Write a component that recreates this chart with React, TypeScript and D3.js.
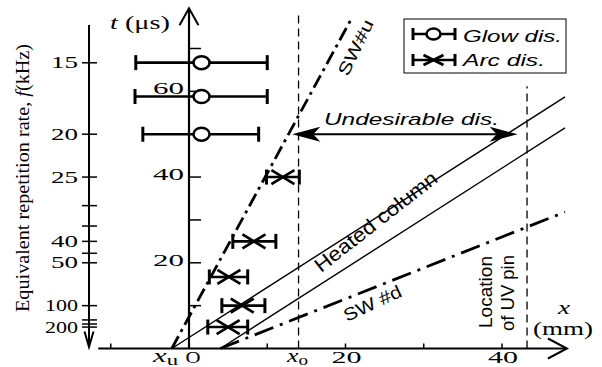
import React, { useEffect, useRef } from 'react';
import * as d3 from 'd3';

// readings from the figure: t in microseconds, x in mm
const glowT = [66.7, 58.8, 50.0];
const glowX = [1.6, 1.6, 1.6];
const glowLo = [-6.8, -6.9, -5.9];
const glowHi = [10.0, 10.0, 8.9];

const arcT = [40, 25, 16.7, 10, 5];
const arcX = [12.0, 8.3, 5.1, 6.8, 5.0];
const arcLo = [9.9, 5.6, 2.6, 4.2, 2.4];
const arcHi = [14.1, 11.1, 7.5, 9.7, 7.5];

const tTicks = [10, 20, 30, 40, 50, 60, 70];
const tLabels = [20, 40, 60];
const fTicks = [15, 20, 25, 30, 35, 40, 45, 50, 100, 150, 175, 200];
const fLabels = [15, 20, 25, 40, 50, 100, 200];
const xTicks = [-10, 10, 20, 30, 40];
const xLabels = [20, 40];

const swU: [number, number][] = [[-2.2, 0], [20.8, 77.1]];
const heatUpper: [number, number][] = [[-2.2, 0], [48.05, 58.7]];
const heatLower: [number, number][] = [[4.0, 0], [48.05, 51.5]];
const swD: [number, number][] = [[4.0, 0], [48.05, 31.85]];

const xO = 14.0;
const xPin = 43.2;
const xOTop = 78.3;
const pinTop = 61.2;
const undesT = 50;
const undesX = [13.2, 42.0];

const xMin = -11.6;
const xMax = 48.3;
const tMax = 79.4;
const fTopT = 75.5;

const W = 602;
const H = 367;
const SERIF = "'Liberation Serif', 'Times New Roman', serif";
const SANS = "'Liberation Sans', Arial, sans-serif";

type Part = { t: string; italic?: boolean; size?: number; dy?: number };

const App = () => {
  const svgRef = useRef<SVGSVGElement>(null);

  useEffect(() => {
    const svg = d3.select(svgRef.current);
    svg.selectAll('*').remove();

    const x = d3.scaleLinear().domain([0, 40]).range([189, 502]);
    const t = d3.scaleLinear().domain([0, 70]).range([348.5, 48.5]);
    const fy = (f: number) => t(1000 / f);
    const line = d3.line<[number, number]>().x(d => x(d[0])).y(d => t(d[1]));

    const label = (parent: any, px: number, py: number, parts: Part[], o: any = {}) => {
      const el = parent.append('text')
        .attr('x', px).attr('y', py)
        .attr('font-family', o.family ?? SERIF)
        .attr('font-size', o.size ?? 17)
        .attr('text-anchor', o.anchor ?? 'start')
        .attr('fill', '#000');
      if (o.len) el.attr('textLength', o.len).attr('lengthAdjust', 'spacingAndGlyphs');
      if (o.transform) el.attr('transform', o.transform);
      if (o.italic) el.attr('font-style', 'italic');
      parts.forEach(p => {
        const ts = el.append('tspan').text(p.t);
        if (p.italic) ts.attr('font-style', 'italic');
        if (p.size) ts.attr('font-size', p.size);
        if (p.dy) ts.attr('dy', p.dy);
      });
      return el;
    };

    const g = svg.append('g');

    // x axis
    const y0 = t(0);
    g.append('line').attr('x1', x(xMin)).attr('x2', x(xMax)).attr('y1', y0).attr('y2', y0)
      .attr('stroke', '#000').attr('stroke-width', 2);
    g.append('path')
      .attr('d', `M${x(xMax) - 19},${y0 - 10}L${x(xMax)},${y0}L${x(xMax) - 19},${y0 + 10}`)
      .attr('fill', 'none').attr('stroke', '#000').attr('stroke-width', 2);
    xTicks.forEach(v => {
      g.append('line').attr('x1', x(v)).attr('x2', x(v)).attr('y1', y0).attr('y2', y0 - 5)
        .attr('stroke', '#000').attr('stroke-width', 1.5);
    });
    xLabels.forEach(v => label(g, x(v) + 1, 363, [{ t: String(v) }], { anchor: 'middle', len: 30 }));
    label(g, 193, 363, [{ t: 'O' }], { anchor: 'middle', len: 15 });
    label(g, 153, 362, [{ t: 'x', italic: true }, { t: 'u', size: 14, dy: 3 }], { len: 25, size: 19 });
    label(g, 287, 362, [{ t: 'x', italic: true }, { t: 'o', size: 14, dy: 3 }], { len: 21, size: 19 });
    label(g, 564, 314, [{ t: 'x', italic: true }], { anchor: 'middle', size: 19, len: 12 });
    label(g, 563, 335, [{ t: '(mm)' }], { anchor: 'middle', size: 18, len: 60 });

    // t axis
    g.append('line').attr('x1', x(0)).attr('x2', x(0)).attr('y1', y0).attr('y2', t(tMax))
      .attr('stroke', '#000').attr('stroke-width', 2.2);
    g.append('path')
      .attr('d', `M${x(0) - 9.5},${t(tMax) + 17}L${x(0)},${t(tMax)}L${x(0) + 9.5},${t(tMax) + 17}`)
      .attr('fill', 'none').attr('stroke', '#000').attr('stroke-width', 2);
    tTicks.forEach(v => {
      g.append('line').attr('x1', x(0)).attr('x2', x(0) + 12).attr('y1', t(v)).attr('y2', t(v))
        .attr('stroke', '#000').attr('stroke-width', 1.5);
    });
    tLabels.forEach(v => label(g, 184, t(v) + 3, [{ t: String(v) }], { anchor: 'end', len: 31 }));
    label(g, 110, 28.5, [{ t: 't', italic: true }, { t: ' (μs)' }], { size: 19, len: 60 });

    // frequency axis (reciprocal of t)
    const fx = 89;
    g.append('line').attr('x1', fx).attr('x2', fx).attr('y1', t(fTopT)).attr('y2', y0 - 1.5)
      .attr('stroke', '#000').attr('stroke-width', 2);
    g.append('path')
      .attr('d', `M${fx - 4.5},${y0 - 17}L${fx},${y0 - 1.5}L${fx + 4.5},${y0 - 17}`)
      .attr('fill', 'none').attr('stroke', '#000').attr('stroke-width', 2);
    fTicks.forEach(f => {
      g.append('line').attr('x1', fx - 7).attr('x2', fx + 8).attr('y1', fy(f)).attr('y2', fy(f))
        .attr('stroke', '#000').attr('stroke-width', 1.5);
    });
    fLabels.forEach(f => {
      const s = String(f);
      label(g, 78, fy(f) + 5.5, [{ t: s }], { anchor: 'end', len: s.length > 2 ? 33 : 27 });
    });
    label(g, 0, 0, [{ t: 'Equivalent repetition rate, ' }, { t: 'f', italic: true }, { t: '(kHz)' }],
      { anchor: 'middle', size: 18, len: 268, transform: 'translate(29,178) rotate(-90)' });

    // vertical dashed markers
    g.append('line').attr('x1', x(xO)).attr('x2', x(xO)).attr('y1', y0).attr('y2', t(xOTop))
      .attr('stroke', '#000').attr('stroke-width', 1.3).attr('stroke-dasharray', '8,5');
    g.append('line').attr('x1', x(xPin)).attr('x2', x(xPin)).attr('y1', y0).attr('y2', t(pinTop))
      .attr('stroke', '#000').attr('stroke-width', 1.3).attr('stroke-dasharray', '8,5');

    // shock waves and heated column
    g.append('path').attr('d', line(swU)).attr('fill', 'none').attr('stroke', '#000')
      .attr('stroke-width', 2.8).attr('stroke-dasharray', '14,5,3,5');
    g.append('path').attr('d', line(swD)).attr('fill', 'none').attr('stroke', '#000')
      .attr('stroke-width', 2.8).attr('stroke-dasharray', '20,7,3,7');
    [heatUpper, heatLower].forEach(d => {
      g.append('path').attr('d', line(d)).attr('fill', 'none').attr('stroke', '#000').attr('stroke-width', 1.4);
    });

    // undesirable arrow
    const ay = t(undesT);
    const ax1 = x(undesX[0]);
    const ax2 = x(undesX[1]);
    g.append('line').attr('x1', ax1 + 10).attr('x2', ax2 - 10).attr('y1', ay).attr('y2', ay)
      .attr('stroke', '#000').attr('stroke-width', 2);
    g.append('path').attr('d', `M${ax1},${ay}L${ax1 + 28},${ay - 7.5}L${ax1 + 21},${ay}L${ax1 + 28},${ay + 7.5}Z`);
    g.append('path').attr('d', `M${ax2},${ay}L${ax2 - 28},${ay - 7.5}L${ax2 - 21},${ay}L${ax2 - 28},${ay + 7.5}Z`);
    label(g, 324, 125, [{ t: 'Undesirable dis.' }], { family: SANS, italic: true, size: 17, len: 175 });

    // text annotations
    label(g, 0, 0, [{ t: 'Heated column' }],
      { family: SANS, size: 20, anchor: 'middle', len: 150, transform: 'translate(380,227) rotate(-38)' });
    label(g, 0, 0, [{ t: 'SW#u' }],
      { family: SANS, size: 17, anchor: 'middle', len: 60, transform: 'translate(361,50) rotate(-64)' });
    label(g, 0, 0, [{ t: 'SW #d' }],
      { family: SANS, size: 18, anchor: 'middle', len: 62, transform: 'translate(375,309) rotate(-25)' });
    label(g, 0, 0, [{ t: 'Location' }],
      { family: SANS, size: 18, anchor: 'middle', len: 72, transform: 'translate(492,292) rotate(-90)' });
    label(g, 0, 0, [{ t: 'of UV pin' }],
      { family: SANS, size: 18, anchor: 'middle', len: 76, transform: 'translate(514,293) rotate(-90)' });

    // error bars
    const bar = (cy: number, lo: number, hi: number, cap: number) => {
      g.append('line').attr('x1', lo).attr('x2', hi).attr('y1', cy).attr('y2', cy)
        .attr('stroke', '#000').attr('stroke-width', 2.6);
      [lo, hi].forEach(px => g.append('line').attr('x1', px).attr('x2', px)
        .attr('y1', cy - cap / 2).attr('y2', cy + cap / 2).attr('stroke', '#000').attr('stroke-width', 3));
    };
    const circ = (cx: number, cy: number, rx: number, ry: number) => {
      g.append('ellipse').attr('cx', cx).attr('cy', cy).attr('rx', rx).attr('ry', ry)
        .attr('fill', '#fff').attr('stroke', '#000').attr('stroke-width', 2.5);
    };
    const cross = (cx: number, cy: number, hw: number, hh: number) => {
      g.append('path').attr('d', `M${cx - hw},${cy - hh}L${cx + hw},${cy + hh}M${cx - hw},${cy + hh}L${cx + hw},${cy - hh}`)
        .attr('stroke', '#000').attr('stroke-width', 2.8).attr('fill', 'none');
    };
    glowT.forEach((v, i) => {
      bar(t(v), x(glowLo[i]), x(glowHi[i]), 15);
      circ(x(glowX[i]), t(v), 8, 6.5);
    });
    arcT.forEach((v, i) => {
      bar(t(v), x(arcLo[i]), x(arcHi[i]), 15);
      cross(x(arcX[i]), t(v), 11.5, 7);
    });

    // legend
    g.append('rect').attr('x', 404).attr('y', 19).attr('width', 162).attr('height', 54)
      .attr('fill', '#fff').attr('stroke', '#000').attr('stroke-width', 1);
    bar(34, 413, 455, 12);
    circ(433.5, 34, 7, 5.5);
    bar(60, 413, 455, 12);
    cross(433.5, 60, 10, 5);
    label(g, 463, 41.5, [{ t: 'Glow dis.' }], { family: SANS, italic: true, size: 17, len: 99 });
    label(g, 463, 65.5, [{ t: 'Arc dis.' }], { family: SANS, italic: true, size: 17, len: 82 });
  }, []);

  return (
    <svg ref={svgRef} width={W} height={H} viewBox={`0 0 ${W} ${H}`}
      style={{ position: 'absolute', left: 0, top: 0, background: '#fff' }} />
  );
};

export default App;
